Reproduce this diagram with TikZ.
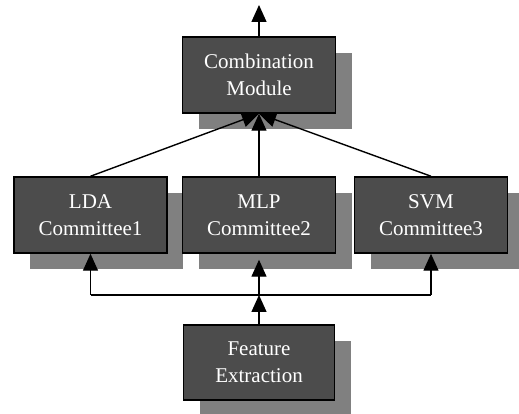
\documentclass[tikz,border=0pt]{standalone}
\usepackage{fontspec}
\setmainfont{Liberation Serif}
\usepackage{tikz}
\usetikzlibrary{shadows,arrows.meta}

\begin{document}
\begin{tikzpicture}[x=1pt,y=1pt,
  box/.style={draw, line width=1.5pt, fill=black!70, text=white, align=center,
    minimum width=153pt, minimum height=76pt, inner sep=0pt,
    font=\fontsize{21}{27}\selectfont,
    drop shadow={shadow xshift=16pt, shadow yshift=-16pt, fill=black!50, opacity=1}},
  link/.style={line width=1.4pt, -{Triangle[width=15pt,length=17pt]}}]
\useasboundingbox (0,0) rectangle (519,414);
\node at (259,339) [box] (comb) {Combination\\Module};
\node at (90.5,199) [box] (lda) {LDA\\Committee1};
\node at (259,199) [box] (mlp) {MLP\\Committee2};
\node at (431,199) [box] (svm) {SVM\\Committee3};
\node at (259,51.5) [box, minimum width=151pt, minimum height=75pt] (feat) {Feature\\Extraction};
\coordinate (out) at (259,409);
\coordinate (bus) at (259,119);
\draw [link] (comb) -- (out);
\draw [link] (lda.north) -- (comb.south);
\draw [link] (mlp.north) -- (comb.south);
\draw [link] (svm.north) -- (comb.south);
\draw [line width=1.4pt] (lda.south |- bus) -- (svm.south |- bus);
\draw [link] (lda.south |- bus) -- (lda.south);
\draw [link, shorten >=6pt] (bus) -- (mlp.south);
\draw [link] (svm.south |- bus) -- (svm.south);
\draw [link] (feat.north) -- (bus);
\end{tikzpicture}
\end{document}
